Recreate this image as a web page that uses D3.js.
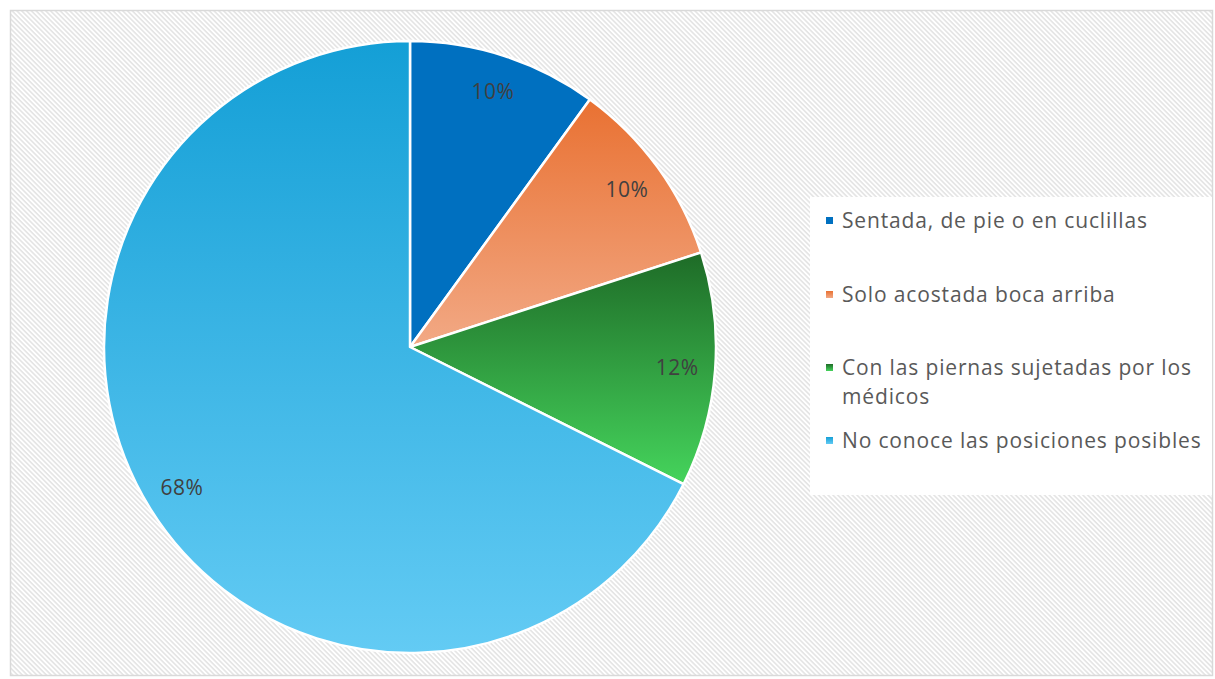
<!DOCTYPE html>
<html lang="es">
<head>
<meta charset="UTF-8">
<title>Posiciones para el parto</title>
<script src="https://d3js.org/d3.v7.min.js"></script>
<style>
    body { margin: 0; background: #fff; }
    svg { display: block; }
    .slice-label { font-family: "Open Sans", sans-serif; font-size: 21px; letter-spacing: 0.5px; fill: #404040; text-anchor: middle; }
    .legend text { font-family: "Open Sans", sans-serif; font-size: 21px; letter-spacing: 0.85px; fill: #595959; }
</style>
</head>
<body>
<div id="chart"></div>
<script>
    const categories = ["Sentada, de pie o en cuclillas", "Solo acostada boca arriba", "Con las piernas sujetadas por los médicos", "No conoce las posiciones posibles"];
    const values = [10, 10, 12.4, 67.6];
    const topColors = ["#0070C0", "#E97132", "#1E6B27", "#149FD6"];
    const bottomColors = ["#0070C0", "#F2A985", "#45D45C", "#63CBF4"];
    const legendLines = [["Sentada, de pie o en cuclillas"], ["Solo acostada boca arriba"], ["Con las piernas sujetadas por los", "médicos"], ["No conoce las posiciones posibles"]];

    const width = 1215, height = 679;
    const cx = 410, cy = 347, radius = 306;

    const svg = d3.select("#chart").append("svg")
        .attr("width", width)
        .attr("height", height);

    const defs = svg.append("defs");

    // diagonal hatch for the chart area
    const hatch = defs.append("pattern")
        .attr("id", "hatch")
        .attr("patternUnits", "userSpaceOnUse")
        .attr("width", 3.4)
        .attr("height", 3.4)
        .attr("patternTransform", "rotate(-45)");
    hatch.append("rect").attr("width", 3.4).attr("height", 3.4).attr("fill", "#ffffff");
    hatch.append("line")
        .attr("x1", 0.9).attr("y1", 0).attr("x2", 0.9).attr("y2", 3.4)
        .attr("stroke", "#e4e4e4").attr("stroke-width", 1.6);

    categories.forEach((c, i) => {
        const g = defs.append("linearGradient")
            .attr("id", "grad" + i)
            .attr("x1", "0%").attr("y1", "0%")
            .attr("x2", "0%").attr("y2", "100%");
        g.append("stop").attr("offset", "0%").attr("stop-color", topColors[i]);
        g.append("stop").attr("offset", "100%").attr("stop-color", bottomColors[i]);
    });

    // frame
    svg.append("rect")
        .attr("x", 10.5).attr("y", 10.5)
        .attr("width", 1202).attr("height", 665)
        .attr("fill", "url(#hatch)")
        .attr("stroke", "#d9d9d9")
        .attr("stroke-width", 1.5);

    const pie = d3.pie().sort(null).value(d => d);
    const arcs = pie(values);
    const arc = d3.arc().innerRadius(0).outerRadius(radius);
    const labelArc = d3.arc().innerRadius(268).outerRadius(268);

    const total = d3.sum(values);

    const pieG = svg.append("g").attr("transform", `translate(${cx},${cy})`);

    pieG.selectAll("path")
        .data(arcs)
        .join("path")
        .attr("d", arc)
        .attr("fill", (d, i) => `url(#grad${i})`)
        .attr("stroke", "#ffffff")
        .attr("stroke-width", 2.5)
        .attr("stroke-linejoin", "round");

    pieG.selectAll("text")
        .data(arcs)
        .join("text")
        .attr("class", "slice-label")
        .attr("transform", d => `translate(${labelArc.centroid(d)})`)
        .attr("dy", "0.35em")
        .text(d => Math.round(d.data / total * 100) + "%");

    // legend
    const legend = svg.append("g").attr("class", "legend");
    legend.append("rect")
        .attr("x", 810).attr("y", 197)
        .attr("width", 402).attr("height", 298)
        .attr("fill", "#ffffff");

    const legendY = [221, 295, 368, 441];
    const items = legend.selectAll("g.item")
        .data(categories)
        .join("g")
        .attr("class", "item")
        .attr("transform", (d, i) => `translate(826,${legendY[i]})`);

    items.append("rect")
        .attr("x", 0).attr("y", -4)
        .attr("width", 7).attr("height", 7)
        .attr("fill", (d, i) => `url(#grad${i})`);

    items.append("text")
        .attr("x", 16)
        .attr("y", 0)
        .selectAll("tspan")
        .data((d, i) => legendLines[i])
        .join("tspan")
        .attr("x", 16)
        .attr("dy", (d, j) => j === 0 ? "0.35em" : "29px")
        .text(d => d);
</script>
</body>
</html>
